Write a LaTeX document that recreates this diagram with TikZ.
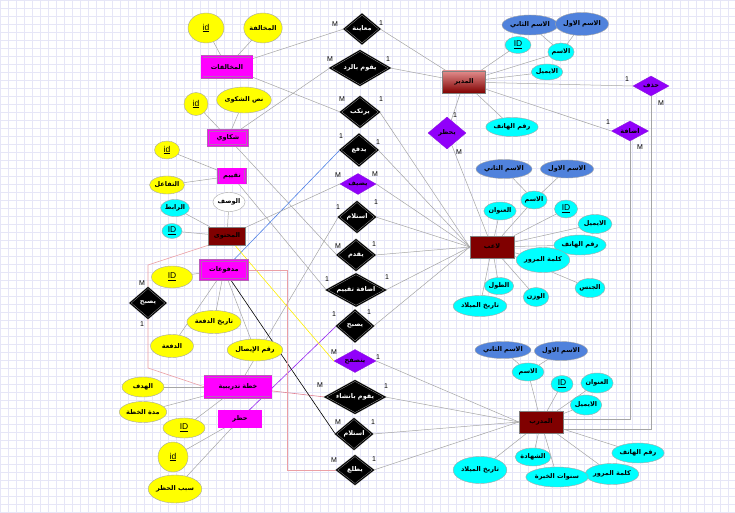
\documentclass[tikz,border=0pt]{standalone}
\usepackage{fontspec}
\setmainfont{Liberation Sans}
\newfontfamily\arabicfont[Script=Arabic]{DejaVu Sans}
\TeXXeTstate=1
\usetikzlibrary{shapes.geometric,backgrounds}

\newcommand{\artxt}[1]{{\arabicfont\bfseries\beginR #1\endR}}
\newcommand{\idtxt}[1]{{\fontsize{8.5}{9}\selectfont\underline{#1}}}

\definecolor{entmag}{RGB}{255,0,255}
\definecolor{entbrd}{RGB}{185,95,185}
\definecolor{darkred}{RGB}{128,0,0}
\definecolor{relviolet}{RGB}{145,0,250}
\definecolor{attblue}{RGB}{80,130,220}
\definecolor{attyellow}{RGB}{255,255,0}
\definecolor{attcyan}{RGB}{0,255,255}
\definecolor{linegray}{RGB}{165,165,165}
\definecolor{gridcol}{RGB}{230,230,247}
\definecolor{pinkline}{RGB}{235,160,165}
\definecolor{blueline}{RGB}{80,130,230}
\definecolor{purpline}{RGB}{150,40,240}
\definecolor{yelline}{RGB}{255,240,0}

\tikzset{
  ent/.style={rectangle,fill=entmag,draw=entbrd,line width=0.5pt,double=entmag,double distance=1.4pt,inner sep=0pt},
  entd/.style={rectangle,fill=darkred,draw=gray,line width=0.5pt,inner sep=0pt},
  rel/.style={diamond,fill=black,draw=gray!70,line width=0.4pt,double=black,double distance=1pt,inner sep=0pt,shape aspect=1.5,text=white},
  relv/.style={diamond,fill=relviolet,draw=relviolet!80!gray,line width=0.4pt,inner sep=0pt,shape aspect=1.8},
  att/.style={ellipse,draw=gray!70,line width=0.4pt,inner sep=0pt},
  atty/.style={att,fill=attyellow},
  attc/.style={att,fill=attcyan},
  attb/.style={att,fill=attblue},
  attw/.style={att,fill=white},
  ln/.style={draw=linegray,line width=0.5pt},
  card/.style={font=\fontsize{7}{8}\selectfont,inner sep=0pt}
}

\begin{document}
\begin{tikzpicture}[x=1pt,y=-1pt,font=\fontsize{6.5}{7.5}\selectfont]
  \useasboundingbox (0,0) rectangle (735,513);
  % grid paper
  \begin{scope}[on background layer]
    \fill[white] (0,0) rectangle (735,513);
    \foreach \gx in {0,8,...,728} \draw[gridcol,line width=0.4pt] (\gx,0) -- (\gx,513);
    \foreach \gy in {0,8,...,512} \draw[gridcol,line width=0.4pt] (0,\gy) -- (735,\gy);
  \end{scope}

  % entities
  \node[ent,minimum width=50,minimum height=21] (mkh) at (227,67) {\artxt{المخالفات}};
  \node[ent,minimum width=39,minimum height=15] (shk) at (228,138) {\artxt{شكاوي}};
  \node[ent,minimum width=27,minimum height=14] (tqm) at (232,176) {\artxt{تقييم}};
  \node[ent,minimum width=47,minimum height=19] (mdf) at (224,270) {\artxt{مدفوعات}};
  \node[ent,minimum width=66,minimum height=21] (khd) at (238,387) {\artxt{خطة تدريبية}};
  \node[ent,minimum width=42,minimum height=16] (hzr) at (240,419) {\artxt{حظر}};
  \node[entd,minimum width=37,minimum height=18] (mht) at (227,236) {\artxt{المحتوى}};
  \node[rectangle,draw=gray,top color={rgb,255:red,225;green,140;blue,140},bottom color=darkred,
        minimum width=43,minimum height=22,inner sep=0pt] (mdr) at (464,82) {\artxt{المدير}};
  \node[entd,minimum width=44,minimum height=22] (lab) at (492,247) {\artxt{لاعب}};
  \node[entd,minimum width=44,minimum height=22] (mdb) at (541,422) {\artxt{المدرب}};

  % relationships
  \node[rel,minimum width=36,minimum height=30] (rMuayana) at (362,29) {\artxt{معاينة}};
  \node[rel,minimum width=60,minimum height=35] (rRadd) at (360,68) {\artxt{يقوم بالرد}};
  \node[rel,minimum width=39,minimum height=31] (rYartakib) at (360,112) {\artxt{يرتكب}};
  \node[rel,minimum width=38,minimum height=32] (rYadfa) at (359,150) {\artxt{يدفع}};
  \node[relv,minimum width=36,minimum height=21] (rYudif) at (358,184) {\artxt{يضيف}};
  \node[rel,minimum width=37,minimum height=31] (rIstilam) at (357,217) {\artxt{استلام}};
  \node[rel,minimum width=38,minimum height=31] (rYuqaddim) at (356,255) {\artxt{يقدم}};
  \node[rel,minimum width=59,minimum height=32] (rTaqyeem) at (356,290) {\artxt{اضافة تقييم}};
  \node[rel,minimum width=37,minimum height=32] (rYusbih) at (355,326) {\artxt{يصبح}};
  \node[relv,minimum width=42,minimum height=23] (rYatasaffah) at (355,361) {\artxt{يتصفح}};
  \node[rel,minimum width=60,minimum height=33] (rInsha) at (355,397) {\artxt{يقوم بانشاء}};
  \node[rel,minimum width=37,minimum height=31] (rIstilamB) at (354,434) {\artxt{استلام}};
  \node[rel,minimum width=37,minimum height=29] (rYattali) at (355,470) {\artxt{يطلع}};
  \node[rel,minimum width=36,minimum height=31] (rYusbihL) at (148,303) {\artxt{يصبح}};
  \node[relv,minimum width=38,minimum height=32] (rYahzur) at (447,133) {\artxt{يحظر}};
  \node[relv,minimum width=36,minimum height=20] (rHadhf) at (651,86) {\artxt{حذف}};
  \node[relv,minimum width=37,minimum height=20] (rIdafa) at (630,131) {\artxt{اضافة}};

  % attributes of the small entities
  \node[atty,minimum width=36,minimum height=30] (aMkhId) at (206,28) {\idtxt{id}};
  \node[atty,minimum width=36,minimum height=30] (aMkhName) at (263,28) {\artxt{المخالفة}};
  \node[atty,minimum width=24,minimum height=23] (aShkId) at (196,104) {\idtxt{id}};
  \node[atty,minimum width=54,minimum height=26] (aShkText) at (244,100) {\artxt{نص الشكوى}};
  \node[atty,minimum width=25,minimum height=18] (aTqmId) at (167,150) {\idtxt{id}};
  \node[atty,minimum width=27,minimum height=18] (aTqmInt) at (167,185) {\artxt{التفاعل}};
  \node[attw,minimum width=30,minimum height=19] (aMhtDesc) at (229,202) {\artxt{الوصف}};
  \node[attc,minimum width=27,minimum height=17] (aMhtLink) at (175,208) {\artxt{الرابط}};
  \node[attc,minimum width=20,minimum height=15] (aMhtId) at (172,231) {\idtxt{ID}};
  \node[atty,minimum width=41,minimum height=22] (aMdfId) at (172,277) {\idtxt{ID}};
  \node[atty,minimum width=49,minimum height=23] (aMdfDate) at (214,322) {\artxt{تاريخ الدفعة}};
  \node[atty,minimum width=43,minimum height=23] (aMdfPay) at (172,346) {\artxt{الدفعة}};
  \node[atty,minimum width=50,minimum height=22] (aMdfRcpt) at (255,350) {\artxt{رقم الإيصال}};
  \node[atty,minimum width=42,minimum height=20] (aKhdGoal) at (143,387) {\artxt{الهدف}};
  \node[atty,minimum width=42,minimum height=21] (aKhdDur) at (143,412) {\artxt{مدة الخطة}};
  \node[atty,minimum width=42,minimum height=20] (aKhdId) at (184,428) {\idtxt{ID}};
  \node[atty,minimum width=30,minimum height=30] (aHzrId) at (173,457) {\idtxt{id}};
  \node[atty,minimum width=53,minimum height=28] (aHzrWhy) at (175,489) {\artxt{سبب الحظر}};

  % attributes of the manager
  \node[attb,minimum width=49,minimum height=20] (aMdrSecond) at (530,25) {\artxt{الاسم الثاني}};
  \node[attb,minimum width=42,minimum height=23] (aMdrFirst) at (582,24) {\artxt{الاسم الاول}};
  \node[attc,minimum width=26,minimum height=17] (aMdrId) at (518,45) {\idtxt{ID}};
  \node[attc,minimum width=26,minimum height=18] (aMdrName) at (561,52) {\artxt{الاسم}};
  \node[attc,minimum width=26,minimum height=16] (aMdrMail) at (547,72) {\artxt{الايميل}};
  \node[attc,minimum width=46,minimum height=19] (aMdrPhone) at (512,127) {\artxt{رقم الهاتف}};

  % attributes of the player
  \node[attb,minimum width=48,minimum height=19] (aLabSecond) at (504,169) {\artxt{الاسم الثاني}};
  \node[attb,minimum width=45,minimum height=18] (aLabFirst) at (567,169) {\artxt{الاسم الاول}};
  \node[attc,minimum width=24,minimum height=18] (aLabName) at (534,200) {\artxt{الاسم}};
  \node[attc,minimum width=28,minimum height=18] (aLabAddr) at (500,211) {\artxt{العنوان}};
  \node[attc,minimum width=23,minimum height=18] (aLabId) at (566,209) {\idtxt{ID}};
  \node[attc,minimum width=34,minimum height=19] (aLabMail) at (595,224) {\artxt{الايميل}};
  \node[attc,minimum width=42,minimum height=20] (aLabPhone) at (580,245) {\artxt{رقم الهاتف}};
  \node[attc,minimum width=47,minimum height=25] (aLabPass) at (543,260) {\artxt{كلمة المرور}};
  \node[attc,minimum width=30,minimum height=19] (aLabSex) at (590,288) {\artxt{الجنس}};
  \node[attc,minimum width=23,minimum height=17] (aLabHeight) at (499,286) {\artxt{الطول}};
  \node[attc,minimum width=24,minimum height=19] (aLabWeight) at (536,297) {\artxt{الوزن}};
  \node[attc,minimum width=48,minimum height=21] (aLabBirth) at (480,306) {\artxt{تاريخ الميلاد}};

  % attributes of the coach
  \node[attb,minimum width=46,minimum height=17] (aMdbSecond) at (503,350) {\artxt{الاسم الثاني}};
  \node[attb,minimum width=49,minimum height=19] (aMdbFirst) at (561,351) {\artxt{الاسم الاول}};
  \node[attc,minimum width=32,minimum height=18] (aMdbName) at (528,372) {\artxt{الاسم}};
  \node[attc,minimum width=22,minimum height=17] (aMdbId) at (562,384) {\idtxt{ID}};
  \node[attc,minimum width=27,minimum height=20] (aMdbAddr) at (597,383) {\artxt{العنوان}};
  \node[attc,minimum width=27,minimum height=20] (aMdbMail) at (586,405) {\artxt{الايميل}};
  \node[attc,minimum width=44,minimum height=20] (aMdbPhone) at (638,453) {\artxt{رقم الهاتف}};
  \node[attc,minimum width=52,minimum height=21] (aMdbPass) at (612,474) {\artxt{كلمة المرور}};
  \node[attc,minimum width=54,minimum height=20] (aMdbYears) at (557,477) {\artxt{سنوات الخبرة}};
  \node[attc,minimum width=35,minimum height=18] (aMdbCert) at (533,457) {\artxt{الشهادة}};
  \node[attc,minimum width=48,minimum height=27] (aMdbBirth) at (480,470) {\artxt{تاريخ الميلاد}};

  % cardinalities
  \foreach \cx/\cy/\ct [count=\ci] in {335/24/M,381/23/1,330/59/M,388/59/1,342/99/M,381/99/1,
      341/136/1,378/142/1,338/175/M,375/174/M,338/207/1,376/202/1,338/246/M,374/244/1,
      327/279/1,387/277/1,334/314/1,369/312/1,334/352/M,378/357/1,320/385/M,386/386/1,
      338/422/M,373/422/1,334/460/M,374/459/1,142/283/M,142/324/1,455/115/1,459/152/M,
      627/79/1,661/103/M,608/122/1,640/147/M}
    \node[card] (card\ci) at (\cx,\cy) {\ct};

  \begin{scope}[on background layer]
    % attribute lines
    \foreach \ea/\eb in {aMkhId/mkh,aMkhName/mkh,aShkId/shk,aShkText/shk,aTqmId/tqm,aTqmInt/tqm,
        aMhtDesc/mht,aMhtLink/mht,aMhtId/mht,aMdfId/mdf,aMdfDate/mdf,aMdfPay/mdf,aMdfRcpt/mdf,
        aKhdGoal/khd,aKhdDur/khd,aKhdId/khd,aHzrId/hzr,aHzrWhy/hzr,
        aMdrId/mdr,aMdrName/mdr,aMdrMail/mdr,aMdrPhone/mdr,aMdrSecond/aMdrName,aMdrFirst/aMdrName,
        aLabName/lab,aLabAddr/lab,aLabId/lab,aLabMail/lab,aLabPhone/lab,aLabPass/lab,aLabSex/lab,
        aLabHeight/lab,aLabWeight/lab,aLabBirth/lab,aLabSecond/aLabName,aLabFirst/aLabName,
        aMdbName/mdb,aMdbId/mdb,aMdbAddr/mdb,aMdbMail/mdb,aMdbPhone/mdb,aMdbPass/mdb,aMdbYears/mdb,
        aMdbCert/mdb,aMdbBirth/mdb,aMdbSecond/aMdbName,aMdbFirst/aMdbName}
      \draw[ln] (\ea) -- (\eb);
    % relationship lines
    \draw[ln] (mkh) -- (rMuayana.west);
    \draw[ln] (rMuayana.east) -- (mdr);
    \draw[ln] (mkh) -- (rYartakib.west);
    \draw[ln] (rYartakib.east) -- (lab.west);
    \draw[ln] (shk) -- (rRadd.west);
    \draw[ln] (rRadd.east) -- (mdr);
    \draw[ln] (shk) -- (rYuqaddim.west);
    \draw[ln] (rYuqaddim.east) -- (lab.west);
    \draw[ln] (tqm) -- (rTaqyeem.west);
    \draw[ln] (rTaqyeem.east) -- (lab.west);
    \draw[blueline,line width=0.6pt] (mdf) -- (rYadfa.west);
    \draw[ln] (rYadfa.east) -- (lab.west);
    \draw[ln] (mht) -- (rYudif.west);
    \draw[ln] (rYudif.east) -- (lab.west);
    \draw[ln] (khd) -- (rIstilam.west);
    \draw[ln] (rIstilam.east) -- (lab.west);
    \draw[purpline,line width=0.6pt] (hzr) -- (rYusbih.west);
    \draw[ln] (rYusbih.east) -- (lab.west);
    \draw[yelline,line width=0.6pt] (mht) -- (rYatasaffah.west);
    \draw[ln] (rYatasaffah.east) -- (mdb.west);
    \draw[pinkline!80!purple,line width=0.6pt] (khd) -- (rInsha.west);
    \draw[ln] (rInsha.east) -- (mdb.west);
    \draw[black,line width=0.6pt] (mdf) -- (rIstilamB.west);
    \draw[ln] (rIstilamB.east) -- (mdb.west);
    \draw[pinkline,line width=0.6pt] (mdf.east) -- (287,270) -- (287,470) -- (rYattali.west);
    \draw[ln] (rYattali.east) -- (mdb.west);
    \draw[pinkline,line width=0.6pt] (mht.south west) -- (148,265) -- (rYusbihL.north);
    \draw[pinkline,line width=0.6pt] (rYusbihL.south) -- (148,368) -- (khd.west);
    \draw[ln] (mdr) -- (rYahzur);
    \draw[ln] (rYahzur) -- (lab);
    \draw[ln] (mdr) -- (rHadhf.west);
    \draw[ln] (rHadhf.south) |- ([yshift=-7pt]mdb.east);
    \draw[ln] (mdr) -- (rIdafa.west);
    \draw[ln] (rIdafa.south) |- ([yshift=3pt]mdb.east);
  \end{scope}
\end{tikzpicture}
\end{document}
